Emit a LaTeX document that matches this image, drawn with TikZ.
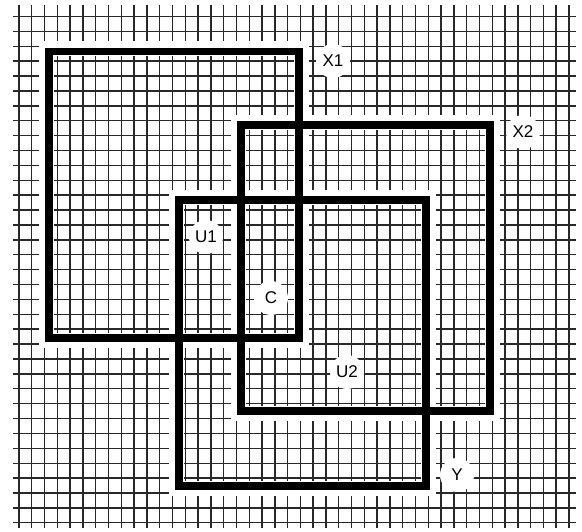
\documentclass[tikz,border=0pt]{standalone}
\usepackage{fontspec}
\setmainfont{Liberation Sans}
\usepackage{tikz}
\usetikzlibrary{positioning}
\definecolor{gridink}{RGB}{40, 40, 40}

\tikzset{
    gridline/.style={gridink, line width=1.4pt},
    boxhalo/.style={white, line width=15pt},
    boxline/.style={black, line width=7.5pt},
    tag/.style={circle, fill=white, inner sep=0pt, minimum size=34pt,
        font=\fontsize{17}{17}\selectfont}
}

\begin{document}
\begin{tikzpicture}[x=1pt, y=-1pt]
    \useasboundingbox (0,0) rectangle (582,532);
    \fill[white] (0,0) rectangle (582,532);

    % grid paper
    \foreach \k in {0,...,43} {
        \draw[gridline] ({19+12.79*\k},5) -- ({19+12.79*\k},528);
    }
    \foreach \j in {0,...,34} {
        \draw[gridline] (13,{16.5+14.89*\j}) -- (576,{16.5+14.89*\j});
    }

    % white margins round the squares
    \draw[boxhalo] (46.5,49) rectangle (301.5,340.5);
    \draw[boxhalo] (238.5,122.5) rectangle (492.5,413.5);
    \draw[boxhalo] (176.5,197.5) rectangle (428.5,488.5);

    % the squares
    \draw[boxline] (49,51.5) rectangle (299,338);
    \draw[boxline] (241,125) rectangle (490,411);
    \draw[boxline] (179,200) rectangle (426,486);

    % labels
    \node[tag] (x1) at (333,61) {X1};
    \node[tag] (x2) at (523,132) {X2};
    \node[tag] (u1) at (206,237) {U1};
    \node[tag] (c) at (271,298) {C};
    \node[tag] (u2) at (347,372) {U2};
    \node[tag] (y) at (457,475) {Y};
\end{tikzpicture}
\end{document}
